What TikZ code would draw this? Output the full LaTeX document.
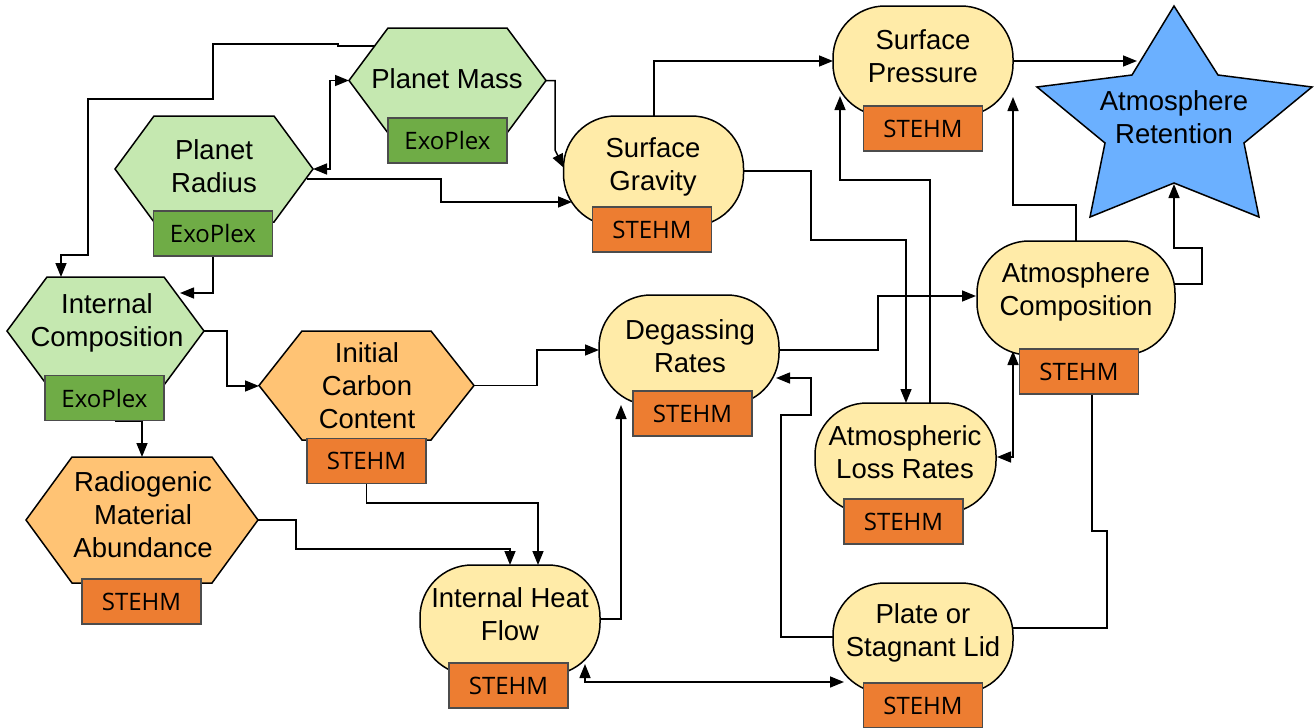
\documentclass[tikz,border=0pt]{standalone}
\usepackage{fontspec}
\setmainfont{Liberation Sans}
\newfontfamily\boxfont{Open Sans}
\usetikzlibrary{arrows.meta}
\definecolor{hexgreen}{HTML}{C5E8B0}
\definecolor{exogreen}{HTML}{6FAC46}
\definecolor{hexorange}{HTML}{FFC374}
\definecolor{stehmor}{HTML}{ED7D31}
\definecolor{bodyyel}{HTML}{FFEBA8}
\definecolor{starblue}{HTML}{6BB0FF}
\tikzset{
  shapeline/.style={draw=black, line width=1.5pt, line join=miter},
  hexbox/.style={inner sep=0pt, outer sep=0pt, draw=none},
  body/.style={shapeline, fill=bodyyel, rounded corners=52pt, inner sep=0pt, outer sep=0pt, minimum width=180pt, minimum height=110pt},
  lbl/.style={align=center, inner sep=0pt, font=\fontsize{27.5}{33}\selectfont},
  tool/.style={draw=black!70, line width=1.3pt, inner sep=0pt, outer sep=0pt, minimum width=119pt, minimum height=45pt, font=\boxfont\fontsize{24}{26}\selectfont},
  exo/.style={tool, fill=exogreen},
  stehm/.style={tool, fill=stehmor},
  conn/.style={draw=black, line width=1.5pt},
  tip/.tip={Triangle[length=14pt,width=11pt]},
  arr/.style={conn, -tip},
  darr/.style={conn, tip-tip},
}
\newcommand\hexshape[7]{%
  \node[hexbox, minimum width=#4pt, minimum height=#5pt] (#1) at (#2,#3) {};
  \filldraw[shapeline, fill=#7] (#1.west) -- ([xshift=#6pt]#1.north west) -- ([xshift=-#6pt]#1.north east) -- (#1.east) -- ([xshift=-#6pt]#1.south east) -- ([xshift=#6pt]#1.south west) -- cycle;}
\begin{document}
\begin{tikzpicture}[x=1pt,y=-1pt]
\useasboundingbox (0,0) rectangle (1315,728);
% ---------- connectors ----------
\draw[arr] (375,46) -- (338,46) -- (338,44) -- (213,44) |- (88,99) |- (61,255) -- (61,277);
\draw[darr] (313,169) -- (330,169) |- (349,80.5);
\draw[arr] (307,179) -| (441,202) -- (572,202);
\draw[arr] (213,256) |- (180,293);
\draw[arr] (546,80.5) -- (555,80.5) -- (555,150) -- (564,168);
\draw[arr] (654,116) |- (833,61);
\draw[arr] (744,171) -| (811,240) -| (906,403);
\draw[arr] (930,403) |- (840,180) -- (840,96);
\draw[arr] (1076,241) |- (1013,205) -- (1013,97);
\draw[arr] (1013,61) -- (1137,61);
\draw[arr] (1175,284) -| (1202,248) -| (1174,184);
\draw[arr] (779,350) -| (878,296) -- (976,296);
\draw[darr] (997,457) -| (1013,351);
\draw[conn] (1092,394) |- (1107,531) |- (1013,628);
\draw[arr] (833,637) -| (781,415) -| (811,378) -- (776,378);
\draw[arr] (600,619) -| (621,405);
\draw[darr] (585,664) |- (844,682);
\draw[arr] (474,385.5) -| (537,350) -- (599,350);
\draw[arr] (366.5,483) |- (538,503) -- (538,565);
\draw[arr] (258,520) -| (296,549) -| (510,565);
\draw[arr] (204,331) -| (227,386) -- (259,386);
\draw[arr] (115,421) -| (142,457);
% ---------- hexagons ----------
\hexshape{pm}{447.5}{80.5}{197}{105}{39}{hexgreen}
\hexshape{pr}{214}{169}{198}{106}{39}{hexgreen}
\hexshape{ic}{105.5}{331}{197}{108}{40}{hexgreen}
\hexshape{icc}{366.5}{385.5}{215}{109}{43}{hexorange}
\hexshape{rma}{142}{520}{232}{126}{46}{hexorange}
\node[lbl] (pmt) at (447,79) {Planet Mass};
\node[lbl] (prt) at (214,166) {Planet\\Radius};
\node[lbl] (ict) at (107,323) {Internal\\Composition};
\node[lbl] (icct) at (367,386) {Initial\\Carbon\\Content};
\node[lbl] (rmat) at (143,515) {Radiogenic\\Material\\Abundance};
\node[exo] (pmb) at (447.5,140.5) {ExoPlex};
\node[exo] (prb) at (213,233.5) {ExoPlex};
\node[exo] (icb) at (104.5,398) {ExoPlex};
\node[stehm] (iccb) at (366.5,461) {STEHM};
\node[stehm] (rmab) at (141.5,601.5) {STEHM};
% ---------- rounded bodies ----------
\node[body] (sg) at (653.5,171) {};
\node[body] (sp) at (923,61) {};
\node[body, minimum width=198pt, minimum height=114pt] (ac) at (1076,298) {};
\node[body] (dr) at (689,350) {};
\node[body, minimum width=181pt] (alr) at (905.5,458) {};
\node[body] (ihf) at (510,620) {};
\node[body] (psl) at (923,638) {};
\node[lbl] (sgt) at (653,167) {Surface\\Gravity};
\node[lbl] (spt) at (923,56) {Surface\\Pressure};
\node[lbl] (act) at (1076,292) {Atmosphere\\Composition};
\node[lbl] (drt) at (690,346) {Degassing\\Rates};
\node[lbl] (alrt) at (905,452) {Atmospheric\\Loss Rates};
\node[lbl] (ihft) at (510,614) {Internal Heat\\Flow};
\node[lbl] (pslt) at (923,633) {Plate or\\Stagnant Lid};
\node[stehm] (sgb) at (652,229.5) {STEHM};
\node[stehm] (spb) at (923,128.5) {STEHM};
\node[stehm] (acb) at (1079,371.5) {STEHM};
\node[stehm] (drb) at (692.5,413.5) {STEHM};
\node[stehm] (alrb) at (903.5,521.5) {STEHM};
\node[stehm] (ihfb) at (508.5,685.5) {STEHM};
\node[stehm] (pslb) at (923,705.5) {STEHM};
% ---------- star ----------
\filldraw[shapeline, fill=starblue] (1174,6) -- (1218,75) -- (1312,87) -- (1244,143) -- (1259,217) -- (1174,183) -- (1090,217) -- (1105,143) -- (1037,87) -- (1132,75) -- cycle;
\node[lbl] (ar) at (1174,117) {Atmosphere\\Retention};
\end{tikzpicture}
\end{document}
